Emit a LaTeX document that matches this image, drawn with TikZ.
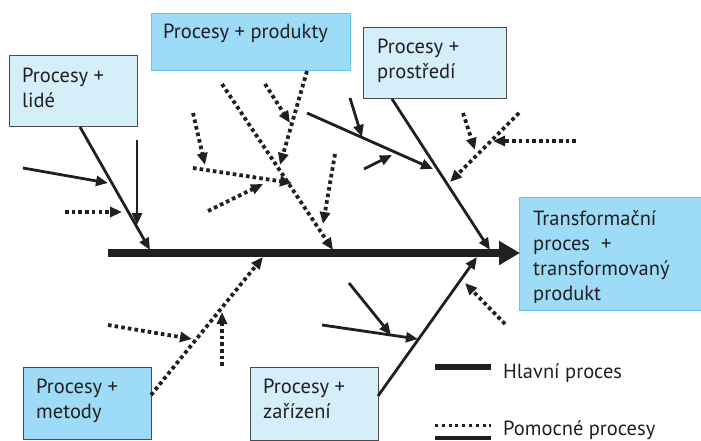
\documentclass[tikz,border=0pt]{standalone}
\usepackage{fontspec}
\setmainfont{PT Sans}
\usetikzlibrary{arrows.meta}
\definecolor{ink}{RGB}{35,31,32}
\definecolor{lightfill}{RGB}{212,238,250}
\definecolor{brightfill}{RGB}{158,219,246}
\definecolor{brightedge}{RGB}{96,196,236}
\definecolor{darkedge}{RGB}{75,75,80}
\newcommand{\myst}{\rule[-4.6pt]{0pt}{20pt}}
\begin{document}
\begin{tikzpicture}[x=1pt,y=-1pt,
  boxlight/.style={draw=darkedge, line width=1.3pt, fill=lightfill, inner sep=0pt, anchor=north west},
  boxbright/.style={draw=brightedge, line width=1.3pt, fill=brightfill, inner sep=0pt, anchor=north west},
  boxbrightdark/.style={draw=darkedge, line width=1.3pt, fill=brightfill, inner sep=0pt, anchor=north west},
  txt/.style={font={\fontsize{20.5}{25}\selectfont}, text=ink, align=left, inner sep=0pt, anchor=west},
  tip/.style={-{Triangle[length=12pt,width=10pt]}},
  sol/.style={draw=ink, line width=2.8pt, tip},
  dot/.style={draw=ink, line width=3.8pt, dash pattern=on 3.6pt off 3.1pt, tip},
  spine/.style={draw=ink, line width=7.5pt, -{Triangle[length=21pt,width=23pt]}}
]
\useasboundingbox (0,0) rectangle (701,441);

% boxes
\node[boxlight, minimum width=128pt, minimum height=71pt] (lide) at (9,55) {};
\node[boxbright, minimum width=199pt, minimum height=57pt] (produkty) at (151,13) {};
\node[boxlight, minimum width=143pt, minimum height=71pt] (prostredi) at (363,27) {};
\node[boxbright, minimum width=185pt, minimum height=113pt] (transf) at (519,197) {};
\node[boxbrightdark, minimum width=128pt, minimum height=72pt] (metody) at (23,367) {};
\node[boxlight, minimum width=128pt, minimum height=73pt] (zarizeni) at (250,367) {};

% texts
\node[txt] (lideT) at (22,89.5) {\myst Procesy +\\\myst lidé};
\node[txt] (produktyT) at (163,33) {\myst Procesy + produkty};
\node[txt] (prostrediT) at (377,60.5) {\myst Procesy +\\\myst prostředí};
\node[txt] (metodyT) at (36,400.5) {\myst Procesy +\\\myst metody};
\node[txt] (zarizeniT) at (263,400.5) {\myst Procesy +\\\myst zařízení};
\begin{scope}
\clip (519,197) rectangle (701,302);
\node[txt] (transfT) at (533,257.5) {\myst Transformační\\\myst proces~ +\\\myst transformovaný\\\myst produkt};
\end{scope}
\node[txt] (leg1T) at (503,373) {\myst Hlavní proces};
\node[txt] (leg2T) at (503,430) {\myst Pomocné procesy};

% coordinates
\coordinate (sp0) at (108,253);
\coordinate (sp1) at (520,253);
% lide
\coordinate (a0) at (80,127);   \coordinate (a1) at (150,250);
\coordinate (a2) at (23,168);   \coordinate (a3) at (108,183);
\coordinate (a4) at (137,140);  \coordinate (a5) at (137,225);
\coordinate (a6) at (65,212);   \coordinate (a7) at (122,212);
% produkty
\coordinate (b0) at (222,84);   \coordinate (b1) at (333,250);
\coordinate (b2) at (307,71);   \coordinate (b3) at (280,165);
\coordinate (b4) at (265,84);   \coordinate (b5) at (290,123);
\coordinate (b6) at (193,113);  \coordinate (b7) at (205,165);
\coordinate (b8) at (193,168);  \coordinate (b9) at (292,183);
\coordinate (b10) at (208,211); \coordinate (b11) at (263,184);
\coordinate (b12) at (335,154); \coordinate (b13) at (323,224);
% prostredi
\coordinate (c0) at (392,99);   \coordinate (c1) at (490,250);
\coordinate (c2) at (307,113);  \coordinate (c3) at (433,169);
\coordinate (c4) at (350,98);   \coordinate (c5) at (362,137);
\coordinate (c6) at (364,169);  \coordinate (c7) at (392,155);
\coordinate (c8) at (519,113);  \coordinate (c9) at (450,182);
\coordinate (c10) at (463,113); \coordinate (c11) at (475,150);
\coordinate (c12) at (576,141); \coordinate (c13) at (493,141);
% metody
\coordinate (d0) at (151,395);  \coordinate (d1) at (263,257);
\coordinate (d2) at (108,325);  \coordinate (d3) at (192,339);
\coordinate (d4) at (222,366);  \coordinate (d5) at (222,312);
% zarizeni
\coordinate (e0) at (378,396);  \coordinate (e1) at (477,257);
\coordinate (e2) at (322,325);  \coordinate (e3) at (418,339);
\coordinate (e4) at (349,283);  \coordinate (e5) at (391,335);
\coordinate (e6) at (505,324);  \coordinate (e7) at (465,283);

% spine
\draw[spine] (sp0) -- (sp1);

% lide
\draw[sol] (a0) -- (a1);
\draw[sol] (a2) -- (a3);
\draw[sol] (a4) -- (a5);
\draw[dot] (a6) -- (a7);
% produkty
\draw[dot] (b0) -- (b1);
\draw[dot] (b2) -- (b3);
\draw[dot] (b4) -- (b5);
\draw[dot] (b6) -- (b7);
\draw[dot] (b8) -- (b9);
\draw[dot] (b10) -- (b11);
\draw[dot] (b12) -- (b13);
% prostredi
\draw[sol] (c0) -- (c1);
\draw[sol] (c2) -- (c3);
\draw[sol] (c4) -- (c5);
\draw[sol] (c6) -- (c7);
\draw[dot] (c8) -- (c9);
\draw[dot] (c10) -- (c11);
\draw[dot] (c12) -- (c13);
% metody
\draw[dot] (d0) -- (d1);
\draw[dot] (d2) -- (d3);
\draw[dot] (d4) -- (d5);
% zarizeni
\draw[sol] (e0) -- (e1);
\draw[sol] (e2) -- (e3);
\draw[sol] (e4) -- (e5);
\draw[dot] (e6) -- (e7);

% legend
\coordinate (l0) at (435,367); \coordinate (l1) at (491,367);
\coordinate (l2) at (435,425); \coordinate (l3) at (491,425);
\coordinate (l4) at (435,438); \coordinate (l5) at (491,438);
\draw[draw=ink, line width=6pt] (l0) -- (l1);
\draw[draw=ink, line width=3pt, dash pattern=on 3pt off 3.8pt] (l2) -- (l3);
\draw[draw=ink, line width=3.5pt] (l4) -- (l5);
\end{tikzpicture}
\end{document}
